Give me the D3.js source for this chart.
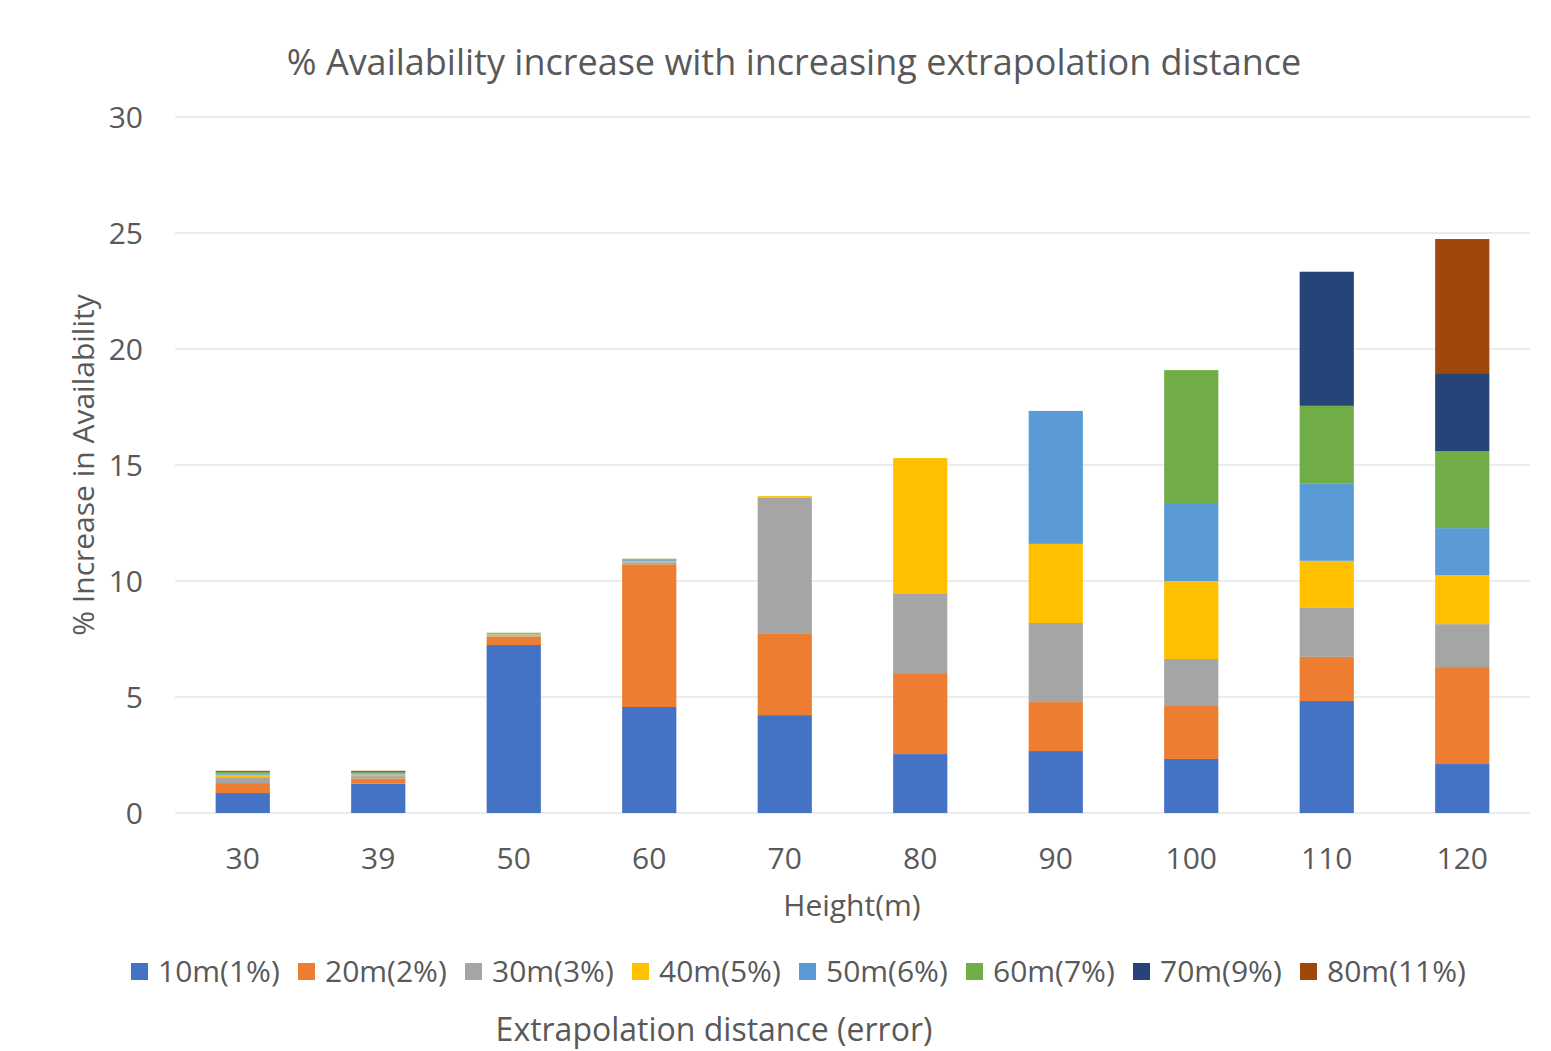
<!DOCTYPE html>
<html><head><meta charset="utf-8">
<script src="https://cdn.jsdelivr.net/npm/d3@7"></script>
<style>body{margin:0;background:#fff;} text{font-family:"Open Sans","Noto Sans",sans-serif;fill:#595959;}</style>
</head><body>
<svg id="c" width="1551" height="1051"></svg>
<script>
const categories = ["30","39","50","60","70","80","90","100","110","120"];
const seriesNames = ["10m(1%)","20m(2%)","30m(3%)","40m(5%)","50m(6%)","60m(7%)","70m(9%)","80m(11%)"];
const colors = ["#4472C4","#ED7D31","#A5A5A5","#FFC000","#5B9BD5","#70AD47","#264478","#9E480E"];
const s10 = [0.86,1.26,7.24,4.57,4.22,2.54,2.67,2.33,4.83,2.11];
const s20 = [0.43,0.23,0.37,6.15,3.53,3.49,2.11,2.28,1.90,4.18];
const s30 = [0.25,0.10,0.05,0.09,5.85,3.41,3.41,2.03,2.11,1.85];
const s40 = [0.11,0.07,0.04,0.06,0.06,5.86,3.41,3.36,2.03,2.11];
const s50 = [0.06,0.05,0.03,0.05,0,0,5.73,3.36,3.32,2.03];
const s60 = [0.06,0.05,0.04,0.04,0,0,0,5.73,3.36,3.32];
const s70 = [0.03,0.04,0,0,0,0,0,0,5.78,3.36];
const s80 = [0.02,0.02,0,0,0,0,0,0,0,5.78];
const yTicks = [0,5,10,15,20,25,30];
const allSeries = [s10,s20,s30,s40,s50,s60,s70,s80];

const svg = d3.select("#c");
const m = {l:175, r:1530, t:117, b:813};
const x = d3.scaleBand().domain(categories).range([m.l,m.r]).paddingInner(0.6).paddingOuter(0.3);
const y = d3.scaleLinear().domain([0,30]).range([m.b,m.t]);

// gridlines
svg.append("g").selectAll("line").data(yTicks).join("line")
  .attr("x1",m.l).attr("x2",m.r).attr("y1",d=>y(d)).attr("y2",d=>y(d))
  .attr("stroke","#d9d9d9").attr("stroke-width",1);

// y labels
svg.append("g").selectAll("text").data(yTicks).join("text")
  .attr("x",143).attr("y",d=>y(d)).attr("dy","0.35em").attr("text-anchor","end")
  .attr("font-size",30).text(d=>d);

// stacked bars
const rows = categories.map((c,i)=>{const o={cat:c}; seriesNames.forEach((s,j)=>o[s]=allSeries[j][i]); return o;});
const stack = d3.stack().keys(seriesNames)(rows);
svg.append("g").selectAll("g").data(stack).join("g").attr("fill",(d,i)=>colors[i])
  .selectAll("rect").data(d=>d).join("rect")
  .attr("x",d=>x(d.data.cat)).attr("width",x.bandwidth())
  .attr("y",d=>y(d[1])).attr("height",d=>Math.max(0,y(d[0])-y(d[1])));

// x labels
svg.append("g").selectAll("text").data(categories).join("text")
  .attr("x",d=>x(d)+x.bandwidth()/2).attr("y",858).attr("dy","0.35em").attr("text-anchor","middle")
  .attr("font-size",30).text(d=>d);

// titles
svg.append("text").attr("x",794).attr("y",62).attr("dy","0.35em").attr("text-anchor","middle")
  .attr("font-size",36).text("% Availability increase with increasing extrapolation distance");
svg.append("text").attr("x",852).attr("y",905).attr("dy","0.35em").attr("text-anchor","middle")
  .attr("font-size",30).text("Height(m)");
svg.append("text").attr("transform","translate(83,465) rotate(-90)").attr("dy","0.35em").attr("text-anchor","middle")
  .attr("font-size",30).text("% Increase in Availability");

// legend
const lg = svg.append("g").selectAll("g").data(seriesNames).join("g")
  .attr("transform",(d,i)=>`translate(${131+i*167},971)`);
lg.append("rect").attr("x",0).attr("y",-8).attr("width",17).attr("height",17).attr("fill",(d,i)=>colors[i]);
lg.append("text").attr("x",27).attr("y",0).attr("dy","0.35em").attr("font-size",30).text(d=>d);

svg.append("text").attr("x",714).attr("y",1030).attr("dy","0.35em").attr("text-anchor","middle")
  .attr("font-size",32).text("Extrapolation distance (error)");
</script>
</body></html>
